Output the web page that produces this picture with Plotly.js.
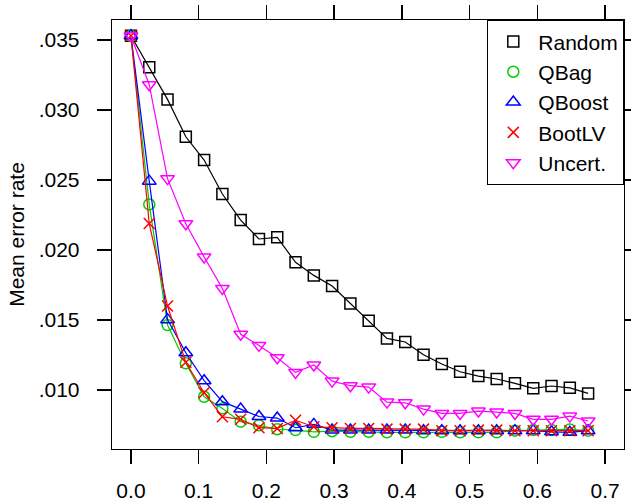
<!DOCTYPE html>
<html>
<head>
<meta charset="utf-8">
<script src="https://cdn.plot.ly/plotly-3.0.1.min.js"></script>
<style>
  html, body { margin: 0; padding: 0; background: #fff; }
  #chart { width: 631px; height: 501px; }
</style>
</head>
<body>
<div id="chart"></div>
<script>
// Fraction of the pool that has been queried (x) and mean error rate per strategy
const fraction = [0.000, 0.027, 0.054, 0.081, 0.108, 0.135, 0.162, 0.189, 0.216, 0.243,
                  0.270, 0.297, 0.324, 0.351, 0.378, 0.405, 0.432, 0.459, 0.486, 0.513,
                  0.540, 0.567, 0.594, 0.621, 0.648, 0.675];

const random = [0.0353, 0.03305, 0.03076, 0.02809, 0.02643, 0.0240, 0.02214, 0.02079, 0.02091, 0.01912,
                0.01819, 0.01743, 0.01619, 0.01495, 0.01369, 0.01343, 0.01252, 0.01186, 0.01131, 0.0110,
                0.01079, 0.01048, 0.01012, 0.01029, 0.01016, 0.00976];

const qbag = [0.0353, 0.02326, 0.01464, 0.01191, 0.00952, 0.00869, 0.00774, 0.00748, 0.0072, 0.00714,
              0.00702, 0.00706, 0.00702, 0.00702, 0.00698, 0.00698, 0.00698, 0.00702, 0.00698, 0.00698,
              0.00698, 0.00710, 0.00714, 0.00714, 0.00719, 0.00710];

const qboost = [0.0353, 0.02492, 0.01503, 0.01266, 0.01067, 0.00917, 0.00864, 0.00811, 0.0080, 0.00731,
                0.00755, 0.00714, 0.00714, 0.00714, 0.00714, 0.00714, 0.00710, 0.00710, 0.00710, 0.00710,
                0.00710, 0.00710, 0.00710, 0.00702, 0.00698, 0.00710];

const bootlv = [0.0353, 0.02189, 0.0160, 0.01198, 0.00981, 0.00809, 0.00791, 0.00731, 0.00726, 0.00784,
                0.00738, 0.00731, 0.00726, 0.00726, 0.00721, 0.00721, 0.00721, 0.00710, 0.00710, 0.00714,
                0.00714, 0.00710, 0.00710, 0.00710, 0.00710, 0.00710];

const uncert = [0.0353, 0.03181, 0.0251, 0.02188, 0.01951, 0.01726, 0.01398, 0.01319, 0.01231, 0.01126,
                0.01179, 0.01064, 0.01031, 0.01021, 0.00914, 0.00909, 0.00864, 0.00833, 0.00833, 0.0085,
                0.00843, 0.00833, 0.00791, 0.00791, 0.00814, 0.00779];

const seriesNames = ['Random', 'QBag', 'QBoost', 'BootLV', 'Uncert.'];

const xTickVals = [0, 0.1, 0.2, 0.3, 0.4, 0.5, 0.6, 0.7];
const xTickText = ['0.0', '0.1', '0.2', '0.3', '0.4', '0.5', '0.6', '0.7'];
const yTickVals = [0.010, 0.015, 0.020, 0.025, 0.030, 0.035];
const yTickText = ['.010', '.015', '.020', '.025', '.030', '.035'];

const FONT = 'Liberation Sans, Arial, Helvetica, sans-serif';

const styles = [
  { color: '#000000', symbol: 'square-open',        size: 11 },
  { color: '#00CD00', symbol: 'circle-open',        size: 11 },
  { color: '#0000FF', symbol: 'triangle-up-open',   size: 12 },
  { color: '#FF0000', symbol: 'x-thin-open',        size: 11 },
  { color: '#FF00FF', symbol: 'triangle-down-open', size: 12 }
];

const values = [random, qbag, qboost, bootlv, uncert];

function markerOf(i) {
  return {
    symbol: styles[i].symbol,
    size: styles[i].size,
    color: styles[i].color,
    line: { color: styles[i].color, width: 1.5 }
  };
}

const traces = [];
// Lines with markers, one per strategy
values.forEach((ys, i) => {
  traces.push({
    type: 'scatter',
    mode: 'lines+markers',
    x: fraction,
    y: ys,
    name: seriesNames[i],
    showlegend: false,
    line: { color: styles[i].color, width: 1.2 },
    marker: markerOf(i)
  });
});
// Legend entries show the symbol only
values.forEach((ys, i) => {
  traces.push({
    type: 'scatter',
    mode: 'markers',
    x: [null],
    y: [null],
    name: seriesNames[i],
    showlegend: true,
    marker: markerOf(i)
  });
});

const axisCommon = {
  showgrid: false,
  zeroline: false,
  showline: true,
  mirror: 'ticks',
  linecolor: '#000',
  linewidth: 1.3,
  ticks: 'outside',
  ticklen: 14,
  tickwidth: 1.3,
  tickcolor: '#000',
  tickfont: { family: FONT, size: 21, color: '#000' }
};

const layout = {
  width: 631,
  height: 501,
  margin: { l: 112, r: 7, t: 20, b: 52 },
  paper_bgcolor: '#fff',
  plot_bgcolor: '#fff',
  font: { family: FONT, color: '#000' },
  showlegend: true,
  legend: {
    x: 1, y: 1, xanchor: 'right', yanchor: 'top',
    bgcolor: '#fff',
    bordercolor: '#000',
    borderwidth: 1.3,
    font: { family: FONT, size: 21, color: '#000' },
    itemwidth: 40
  },
  xaxis: Object.assign({}, axisCommon, {
    range: [-0.028, 0.728],
    tickmode: 'array',
    tickvals: xTickVals,
    ticktext: xTickText,
    ticklabelstandoff: 8
  }),
  yaxis: Object.assign({}, axisCommon, {
    range: [0.00579, 0.03643],
    tickmode: 'array',
    tickvals: yTickVals,
    ticktext: yTickText,
    ticklabelstandoff: 13,
    title: {
      text: 'Mean error rate',
      font: { family: FONT, size: 21, color: '#000' },
      standoff: 8
    }
  })
};

Plotly.newPlot('chart', traces, layout, { displayModeBar: false, staticPlot: true });
</script>
</body>
</html>
